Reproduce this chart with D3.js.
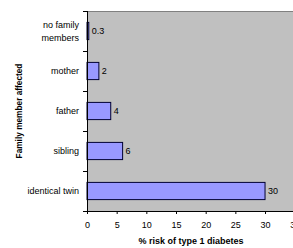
<!DOCTYPE html>
<html><head><meta charset="utf-8">
<script src="https://cdn.jsdelivr.net/npm/d3@7"></script>
<style>body{margin:0;background:#fff;overflow:hidden}svg{display:block}text{font-family:"Liberation Sans",Arial,sans-serif}</style>
</head><body>
<script>
const categories = ["no family members","mother","father","sibling","identical twin"];
const values = [0.3, 2, 4, 6, 30];
const valueLabels = ["0.3","2","4","6","30"];
const xTicks = [0,5,10,15,20,25,30,35];
const xTitle = "% risk of type 1 diabetes";
const yTitle = "Family member affected";

(function(){
const W = 293, H = 248;
const svg = d3.select("body").append("svg").attr("width", W).attr("height", H);
const pl = 87, pt = 11, pb = 211, pr = 294.7;
const x = d3.scaleLinear().domain([0,35]).range([pl, pr]);
const y = d3.scaleBand().domain(categories).range([pt, pb]).paddingInner(0.57).paddingOuter(0.285);

svg.append("rect").attr("x", pl).attr("y", pt).attr("width", pr-pl+10).attr("height", pb-pt).attr("fill", "#c0c0c0");
svg.append("line").attr("x1", pl).attr("x2", W).attr("y1", pt+0.5).attr("y2", pt+0.5).attr("stroke", "#808080").attr("stroke-width", 1);

svg.selectAll("rect.bar").data(values).enter().append("rect").attr("class","bar")
  .attr("x", x(0)).attr("y", (d,i)=>y(categories[i]))
  .attr("width", d=>x(d)-x(0)).attr("height", y.bandwidth())
  .attr("fill", "#9999ff").attr("stroke", "#000033").attr("stroke-width", 1);

svg.selectAll("text.val").data(values).enter().append("text").attr("class","val")
  .attr("x", d=>x(d)+3).attr("y", (d,i)=>y(categories[i])+y.bandwidth()/2).attr("dy","0.35em")
  .attr("font-size", 9).attr("fill","#000").text((d,i)=>valueLabels[i]);

const xa = svg.append("g").attr("transform", `translate(0,${pb})`)
  .call(d3.axisBottom(x).tickValues(xTicks).tickSize(3).tickPadding(8).tickFormat(d3.format("d")));
xa.select(".domain").attr("stroke","#000");
xa.selectAll("text").attr("font-size", 9).attr("fill","#000");

const ya = svg.append("g").attr("transform", `translate(${pl},0)`);
ya.append("line").attr("x1",0.5).attr("x2",0.5).attr("y1",pt).attr("y2",pb).attr("stroke","#000");
const bounds = categories.map(c=>y(c)-y.step()*y.paddingInner()/2).concat([pb]);
ya.selectAll("line.t").data(bounds).enter().append("line").attr("class","t")
  .attr("x1",-4).attr("x2",0).attr("y1",d=>Math.round(d)+0.5).attr("y2",d=>Math.round(d)+0.5).attr("stroke","#000");
categories.forEach((c,i)=>{
  const cy = y(c)+y.bandwidth()/2;
  const t = ya.append("text").attr("x",-8).attr("text-anchor","end").attr("font-size",9).attr("fill","#000");
  if (c === "no family members") {
    t.append("tspan").attr("x",-8).attr("y",cy-3).text("no family");
    t.append("tspan").attr("x",-8).attr("y",cy+10).text("members");
  } else {
    t.attr("y", cy).attr("dy","0.35em").text(c);
  }
});

const xt = svg.append("text").attr("x", 191).attr("y", 244).attr("text-anchor","middle")
  .attr("font-size", 9).attr("font-weight","bold").text(xTitle);
const xl = xt.node().getComputedTextLength();
if (xl > 108) xt.attr("font-size", 9*108/xl);
const yt = svg.append("text").attr("transform", `translate(22,${(pt+pb)/2}) rotate(-90)`).attr("text-anchor","middle")
  .attr("font-size", 9).attr("font-weight","bold").text(yTitle);
const yl = yt.node().getComputedTextLength();
yt.attr("font-size", Math.min(10, 9*95/yl));
})();
</script>
</body></html>
